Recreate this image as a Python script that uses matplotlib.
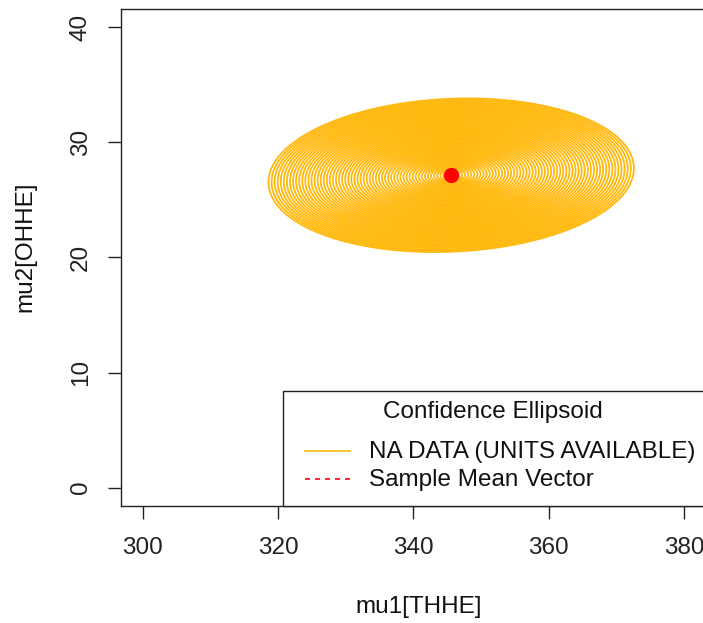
import numpy as np
import matplotlib
matplotlib.use("Agg")
import matplotlib.pyplot as plt
from matplotlib.patches import Rectangle
from matplotlib.lines import Line2D

plt.rcParams['font.family'] = ['Liberation Sans', 'DejaVu Sans']

# ---- data ----
mean_vector = [345.6, 27.15]          # sample mean (mu1, mu2)
semi_axis_x = 27.0                     # half-width of ellipse in mu1
semi_axis_y = 6.65                     # half-height in mu2
shear_xy = 0.6                         # small tilt (mu2 shift at mu1 extremes)
xticks = [300, 320, 340, 360, 380]
yticks = [0, 10, 20, 30, 40]
xlabel = "mu1[THHE]"
ylabel = "mu2[OHHE]"
legend_title = "Confidence Ellipsoid"
legend_labels = ["NA DATA (UNITS AVAILABLE)", "Sample Mean Vector"]
ell_color = "#FFB90F"
mean_color = "#FF0000"

W, H = 703, 623
fig = plt.figure(figsize=(W / 100, H / 100), dpi=100)

def fx(x):
    return x / W

def fy(y):
    return 1 - y / H

L, R, T, B = 121, 705.6, 9, 506
ax = fig.add_axes([fx(L), fy(B), fx(R) - fx(L), fy(T) - fy(B)])
ax.set_xlim(296.8, 383.2)
ax.set_ylim(-1.6, 41.6)

# filled confidence ellipse drawn as many concentric rings
t = np.linspace(0, 2 * np.pi, 400)
for s in np.linspace(0.01, 1.0, 60):
    ex = mean_vector[0] + s * semi_axis_x * np.cos(t)
    ey = mean_vector[1] + s * (semi_axis_y * np.sin(t) + shear_xy * np.cos(t))
    ax.plot(ex, ey, color=ell_color, lw=1.3, solid_capstyle='butt')

ax.plot([mean_vector[0]], [mean_vector[1]], 'o', color=mean_color,
        markersize=10, zorder=5)

for sp in ax.spines.values():
    sp.set_linewidth(1.0)
    sp.set_color('#222222')

fs = 17.5
ax.set_xticks(xticks)
ax.set_yticks(yticks)
ax.tick_params(axis='both', length=9.4, width=1.0, direction='out',
               labelsize=fs, colors='#222222')
ax.tick_params(axis='x', pad=13)
ax.tick_params(axis='y', pad=11.5, labelrotation=90)
for lab in ax.get_yticklabels():
    lab.set_va('center')

fig.text(fx(419), fy(607), xlabel, ha='center', va='center', fontsize=fs, color='#111111')
fig.text(fx(25), fy(247), ylabel, ha='center', va='center', fontsize=fs,
         rotation=90, color='#111111')

# legend box (bottom right)
rect = Rectangle((fx(283), fy(506)), fx(720) - fx(283), fy(391) - fy(506),
                 transform=fig.transFigure, facecolor='white', edgecolor='#222222',
                 lw=1.0, zorder=10)
fig.add_artist(rect)
fig.text(fx(493), fy(412), legend_title, ha='center', va='center', fontsize=fs,
         color='#111111', zorder=11)
fig.add_artist(Line2D([fx(305), fx(350)], [fy(451), fy(451)],
                      transform=fig.transFigure, color=ell_color, lw=1.2, zorder=11))
fig.add_artist(Line2D([fx(305), fx(350)], [fy(479), fy(479)],
                      transform=fig.transFigure, color=mean_color, lw=1.2,
                      ls=(0, (3, 3)), zorder=11))
fig.text(fx(369), fy(452), legend_labels[0], ha='left', va='center', fontsize=fs,
         color='#111111', zorder=11)
fig.text(fx(369), fy(480), legend_labels[1], ha='left', va='center', fontsize=fs,
         color='#111111', zorder=11)

fig.savefig("out.png", dpi=100)
